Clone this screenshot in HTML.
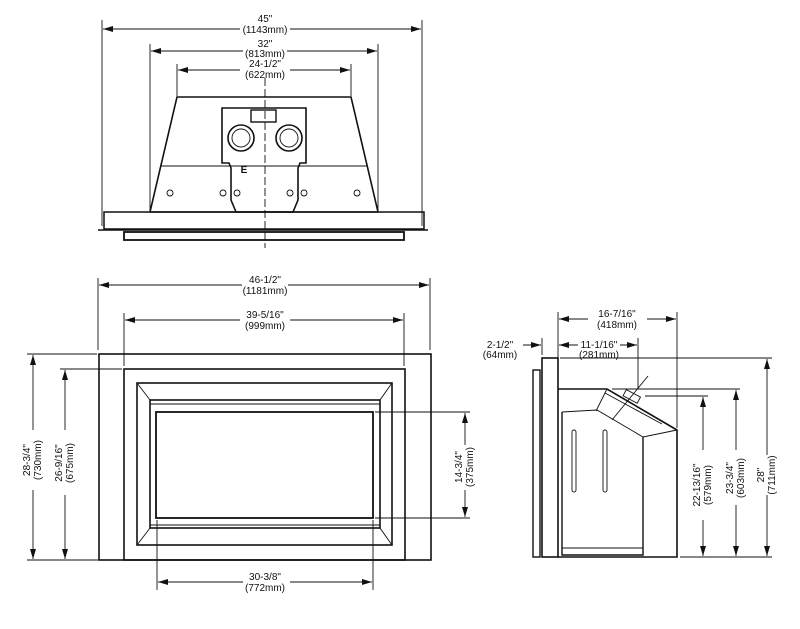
<!DOCTYPE html>
<html><head><style>
html,body{margin:0;padding:0;background:#fff;}
svg{display:block;}
text{font-family:"Liberation Sans",sans-serif;font-size:10px;fill:#111;text-anchor:middle;}
</style></head><body>
<svg width="800" height="629" viewBox="0 0 800 629" xmlns="http://www.w3.org/2000/svg">
<defs>
<marker id="a" viewBox="0 0 10 6" refX="10" refY="3" markerWidth="10" markerHeight="6" orient="auto-start-reverse" markerUnits="userSpaceOnUse"><path d="M0,0L10,3L0,6z" fill="#111"/></marker>
</defs>
<g stroke="#111" fill="none" stroke-width="0.9">
<!-- TOP VIEW -->
<line x1="102" y1="20" x2="102" y2="226"/><line x1="422" y1="20" x2="422" y2="226"/>
<line x1="150" y1="44" x2="150" y2="212"/><line x1="378" y1="44" x2="378" y2="212"/>
<line x1="177" y1="64" x2="177" y2="96"/><line x1="351" y1="64" x2="351" y2="96"/>
<line x1="103" y1="29" x2="240" y2="29" marker-start="url(#a)"/><line x1="290" y1="29" x2="421" y2="29" marker-end="url(#a)"/>
<line x1="151" y1="51" x2="243" y2="51" marker-start="url(#a)"/><line x1="287" y1="51" x2="377" y2="51" marker-end="url(#a)"/>
<line x1="178" y1="70" x2="240" y2="70" marker-start="url(#a)"/><line x1="290" y1="70" x2="350" y2="70" marker-end="url(#a)"/>
<path d="M177,97 L351,97 L378,212 L150,212 Z" stroke-width="1.6"/>
<line x1="160" y1="166" x2="368" y2="166"/>
<path d="M222,108 H306 V163 H300 L298,168 V200 L293,212 H236 L231,200 V168 L229,163 H222 Z" stroke-width="1.6"/>
<rect x="251" y="110" width="25" height="12" stroke-width="1.4"/>
<circle cx="241" cy="138" r="13" stroke-width="1.6"/><circle cx="241" cy="138" r="9"/>
<circle cx="289" cy="138" r="13" stroke-width="1.6"/><circle cx="289" cy="138" r="9"/>
<circle cx="170" cy="193" r="3"/><circle cx="223" cy="193" r="3"/><circle cx="237" cy="193" r="3"/>
<circle cx="290" cy="193" r="3"/><circle cx="304" cy="193" r="3"/><circle cx="357" cy="193" r="3"/>
<line x1="265" y1="78" x2="265" y2="248" stroke-dasharray="8,3"/>
<rect x="104" y="212" width="320" height="17" stroke-width="1.5"/>
<line x1="98" y1="230" x2="428" y2="230" stroke-width="1.6"/>
<rect x="124" y="232" width="280" height="8" stroke-width="1.8"/>
<!-- FRONT VIEW -->
<line x1="98" y1="278" x2="98" y2="350"/><line x1="430" y1="278" x2="430" y2="350"/>
<line x1="124" y1="313" x2="124" y2="366"/><line x1="404" y1="313" x2="404" y2="366"/>
<line x1="99" y1="285" x2="242" y2="285" marker-start="url(#a)"/><line x1="288" y1="285" x2="429" y2="285" marker-end="url(#a)"/>
<line x1="125" y1="320" x2="240" y2="320" marker-start="url(#a)"/><line x1="290" y1="320" x2="403" y2="320" marker-end="url(#a)"/>
<rect x="99" y="354" width="332" height="206" stroke-width="1.6"/>
<rect x="124" y="369" width="281" height="191" stroke-width="1.6"/>
<rect x="137" y="383" width="255" height="162" stroke-width="1.6"/>
<rect x="150" y="400" width="230" height="128" stroke-width="1.6"/>
<rect x="156" y="412" width="217" height="106" stroke-width="1.8"/>
<line x1="137" y1="383" x2="150" y2="400"/><line x1="392" y1="383" x2="380" y2="400"/>
<line x1="137" y1="545" x2="150" y2="528"/><line x1="392" y1="545" x2="380" y2="528"/>
<line x1="150" y1="404" x2="380" y2="404"/><line x1="150" y1="525" x2="380" y2="525"/>
<line x1="27" y1="354" x2="97" y2="354"/><line x1="27" y1="560" x2="97" y2="560"/>
<line x1="60" y1="369" x2="122" y2="369"/><line x1="60" y1="560" x2="122" y2="560"/>
<line x1="33" y1="355" x2="33" y2="430" marker-start="url(#a)"/><line x1="33" y1="490" x2="33" y2="559" marker-end="url(#a)"/>
<line x1="65" y1="370" x2="65" y2="430" marker-start="url(#a)"/><line x1="65" y1="495" x2="65" y2="559" marker-end="url(#a)"/>
<line x1="375" y1="412" x2="470" y2="412"/><line x1="375" y1="518" x2="470" y2="518"/>
<line x1="465" y1="413" x2="465" y2="445" marker-start="url(#a)"/><line x1="465" y1="490" x2="465" y2="517" marker-end="url(#a)"/>
<line x1="157" y1="520" x2="157" y2="590"/><line x1="373" y1="520" x2="373" y2="590"/>
<line x1="158" y1="582" x2="243" y2="582" marker-start="url(#a)"/><line x1="290" y1="582" x2="372" y2="582" marker-end="url(#a)"/>
<!-- SIDE VIEW -->
<line x1="558" y1="312" x2="558" y2="358"/><line x1="677" y1="312" x2="677" y2="428"/>
<line x1="638" y1="338" x2="638" y2="388"/><line x1="542" y1="338" x2="542" y2="355"/>
<line x1="559" y1="319" x2="588" y2="319" marker-start="url(#a)"/><line x1="647" y1="319" x2="676" y2="319" marker-end="url(#a)"/>
<line x1="559" y1="345" x2="578" y2="345" marker-start="url(#a)"/><line x1="620" y1="345" x2="637" y2="345" marker-end="url(#a)"/>
<line x1="523" y1="345" x2="541" y2="345" marker-end="url(#a)"/>
<rect x="533" y="370" width="7" height="187" stroke-width="1.4"/>
<rect x="542" y="358" width="16" height="199" stroke-width="1.6"/>
<path d="M558,389 H607 L677,430 V557 H558" stroke-width="1.6"/>
<path d="M562,412 V555 H643 V437" stroke-width="1.4"/>
<path d="M562,412 L597,410 L643,437 L677,430"/>
<path d="M607,389 L596,411 M605,393 L662,424"/>
<rect x="624" y="393" width="16" height="7" transform="rotate(28 632 396)"/>
<line x1="612" y1="420" x2="648" y2="376"/>
<rect x="572" y="430" width="4" height="62" rx="2"/><rect x="603" y="430" width="4" height="62" rx="2"/>
<line x1="562" y1="548" x2="643" y2="548"/>
<line x1="560" y1="358" x2="772" y2="358"/>
<line x1="612" y1="389" x2="740" y2="389"/>
<line x1="645" y1="396" x2="708" y2="396"/>
<line x1="680" y1="557" x2="772" y2="557"/>
<line x1="703" y1="397" x2="703" y2="450" marker-start="url(#a)"/><line x1="703" y1="520" x2="703" y2="556" marker-end="url(#a)"/>
<line x1="736" y1="390" x2="736" y2="450" marker-start="url(#a)"/><line x1="736" y1="505" x2="736" y2="556" marker-end="url(#a)"/>
<line x1="767" y1="359" x2="767" y2="455" marker-start="url(#a)"/><line x1="767" y1="495" x2="767" y2="556" marker-end="url(#a)"/>
</g>
<text x="244" y="173" style="font-weight:bold;font-size:10px">E</text>
<text x="265" y="22">45"</text><text x="265" y="33">(1143mm)</text>
<text x="265" y="47">32"</text><text x="265" y="57">(813mm)</text>
<text x="265" y="67">24-1/2"</text><text x="265" y="78">(622mm)</text>
<text x="265" y="283">46-1/2"</text><text x="265" y="294">(1181mm)</text>
<text x="265" y="318">39-5/16"</text><text x="265" y="329">(999mm)</text>
<text x="265" y="580">30-3/8"</text><text x="265" y="591">(772mm)</text>
<text transform="translate(30,460) rotate(-90)">28-3/4"</text><text transform="translate(41,460) rotate(-90)">(730mm)</text>
<text transform="translate(62,463) rotate(-90)">26-9/16"</text><text transform="translate(73,463) rotate(-90)">(675mm)</text>
<text transform="translate(462,467) rotate(-90)">14-3/4"</text><text transform="translate(473,467) rotate(-90)">(375mm)</text>
<text x="617" y="317">16-7/16"</text><text x="617" y="328">(418mm)</text>
<text x="599" y="348">11-1/16"</text><text x="599" y="358">(281mm)</text>
<text x="500" y="348">2-1/2"</text><text x="500" y="358">(64mm)</text>
<text transform="translate(700,485) rotate(-90)">22-13/16"</text><text transform="translate(711,485) rotate(-90)">(579mm)</text>
<text transform="translate(733,478) rotate(-90)">23-3/4"</text><text transform="translate(744,478) rotate(-90)">(603mm)</text>
<text transform="translate(764,475) rotate(-90)">28"</text><text transform="translate(775,475) rotate(-90)">(711mm)</text>
</svg>
</body></html>
